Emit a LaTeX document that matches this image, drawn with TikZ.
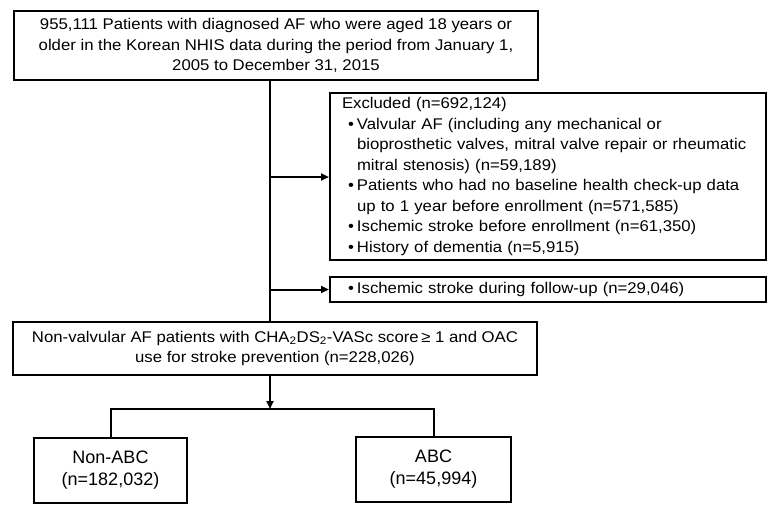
\documentclass[tikz,border=0pt]{standalone}
\usepackage{fontspec}
\setmainfont{Liberation Sans}
\newfontfamily\widesans[FakeStretch=1.08]{Liberation Sans}
\usetikzlibrary{arrows.meta}
\newcommand\bul{\makebox[15pt][l]{\hspace*{6pt}•}}
\newcommand\ind{\hspace*{15pt}}
\begin{document}
\begin{tikzpicture}[x=1pt,y=-1pt,
  box/.style={draw, line width=2pt, inner sep=0pt, align=center,
    font=\widesans\fontsize{15.5pt}{20.5pt}\selectfont},
  bigbox/.style={box, font=\fontsize{18pt}{22pt}\selectfont},
  conn/.style={line width=2pt},
  arr/.style={conn, -{Triangle[length=8pt,width=7pt]}}]
\useasboundingbox (0,0) rectangle (782,515);
\node[box, minimum width=524pt, minimum height=69pt] (top) at (276,45.5)
  {955,111 Patients with diagnosed AF who were aged 18 years or\\
   older in the Korean NHIS data during the period from January 1,\\
   2005 to December 31, 2015};
\node[box, minimum width=524pt, minimum height=53pt] (mid) at (275,348.5)
  {Non-valvular AF patients with CHA\textsubscript{2}DS\textsubscript{2}-VASc score\,≥ 1 and OAC\\
   use for stroke prevention (n=228,026)};
\node[box, align=left, text width=412pt, inner xsep=12pt, minimum height=167pt] (exc) at (548,176.5)
  {Excluded (n=692,124)\\
   \bul Valvular AF (including any mechanical or\\
   \ind bioprosthetic valves, mitral valve repair or rheumatic\\
   \ind mitral stenosis) (n=59,189)\\
   \bul Patients who had no baseline health check-up data\\
   \ind up to 1 year before enrollment (n=571,585)\\
   \bul Ischemic stroke before enrollment (n=61,350)\\
   \bul History of dementia (n=5,915)};
\node[box, align=left, text width=412pt, inner xsep=12pt, minimum height=25pt] (fol) at (548,289.5)
  {\bul Ischemic stroke during follow-up (n=29,046)};
\node[bigbox, minimum width=153pt, minimum height=65pt] (nabc) at (110.5,470.5)
  {Non-ABC\\(n=182,032)};
\node[bigbox, minimum width=155pt, minimum height=65pt] (abc) at (433.5,469.5)
  {ABC\\(n=45,994)};
\coordinate (t1) at (270,80);
\coordinate (t2) at (270,322);
\coordinate (b1) at (270,177);
\coordinate (b2) at (270,289.5);
\coordinate (s0) at (270,375);
\coordinate (s1) at (270,409);
\coordinate (hl) at (111,409);
\coordinate (hr) at (433.5,409);
\draw[conn] (t1) -- (t2);
\draw[arr] (b1) -- (b1 -| exc.west);
\draw[arr] (b2) -- (b2 -| fol.west);
\draw[arr] (s0) -- (s1);
\draw[conn] (hl |- nabc.north) -- (hl) -- (hr) -- (hr |- abc.north);
\end{tikzpicture}
\end{document}
